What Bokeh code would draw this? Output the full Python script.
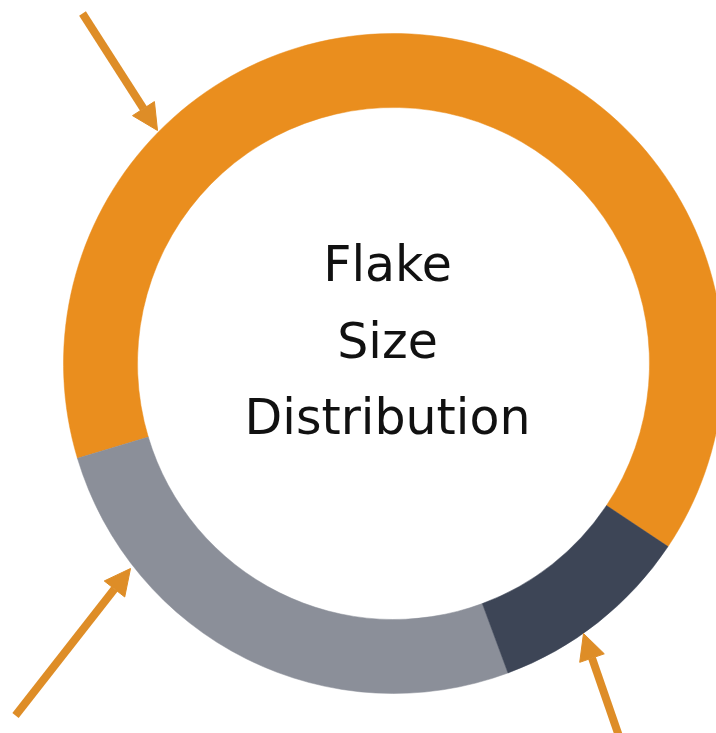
import math
from bokeh.plotting import figure
from bokeh.models import ColumnDataSource, Range1d, Arrow, NormalHead
from bokeh.core.properties import value
from bokeh.embed import file_html
from bokeh.resources import INLINE

# ---- data ----
categories = ["Large flakes", "Medium flakes", "Small flakes"]
shares = [64, 26, 10]
colors = ["#EA8E1E", "#8B8F99", "#3D4556"]
center_lines = ["Flake", "Size", "Distribution"]

# ---- layout (data units == pixels, y upward) ----
W, H = 716, 733
IMG_H = 733
cx, cy = 393, IMG_H - 363
r_in, r_out = 256, 330
start_deg = -33.7

total = float(sum(shares))
starts, ends = [], []
acc = start_deg
for s in shares:
    a0 = acc
    acc = acc + 360.0 * s / total
    starts.append(math.radians(a0))
    ends.append(math.radians(acc))

src = ColumnDataSource(dict(cat=categories, share=shares, color=colors,
                            start=starts, end=ends))

p = figure(width=W, height=H, output_backend="svg", toolbar_location=None,
           x_range=Range1d(0, W), y_range=Range1d(IMG_H - H, IMG_H),
           min_border=0, tools="")
p.axis.visible = False
p.grid.visible = False
p.outline_line_color = None
p.background_fill_color = "white"
p.border_fill_color = "white"

p.annular_wedge(x=cx, y=cy, inner_radius=r_in, outer_radius=r_out,
                start_angle="start", end_angle="end", color="color",
                line_color="color", line_width=0.5, source=src)

# centre text
base_y = [IMG_H - 284 + 20, IMG_H - 360 + 19, IMG_H - 435 + 18]
p.text(x=[387] * 3, y=base_y, text=center_lines,
       text_font=value("DejaVu Sans"), text_font_size="49px",
       text_color="#111111", text_align="center", text_baseline="alphabetic")

# arrows pointing at each segment
arrow_color = "#DE8D27"
arrows = [((82, IMG_H - 13), (157, IMG_H - 130)),
          ((15, IMG_H - 715), (130, IMG_H - 568)),
          ((620, IMG_H - 740), (583, IMG_H - 633))]
for (x0, y0), (x1, y1) in arrows:
    p.add_layout(Arrow(x_start=x0, y_start=y0, x_end=x1, y_end=y1,
                       line_color=arrow_color, line_width=8,
                       end=NormalHead(size=26, fill_color=arrow_color,
                                      line_color=arrow_color, line_width=1)))

open("out.html", "w").write(file_html(p, INLINE))
